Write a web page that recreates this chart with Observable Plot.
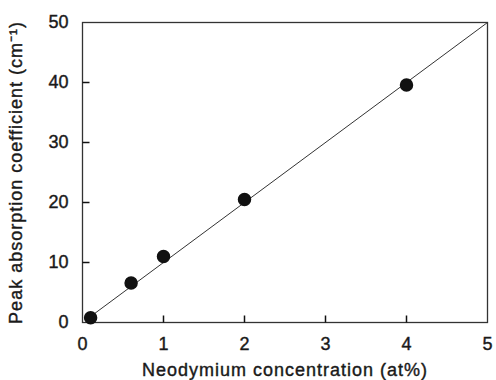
<!DOCTYPE html>
<html>
<head>
<meta charset="utf-8">
<script src="https://cdn.jsdelivr.net/npm/d3@7"></script>
<script src="https://cdn.jsdelivr.net/npm/@observablehq/plot@0.6"></script>
<style>
  html, body { margin: 0; padding: 0; background: #fff; }
  svg text { stroke: #1a1a1a; stroke-width: 0.4px; }
  g[aria-label="x-axis label"] text, g[aria-label="y-axis label"] text { letter-spacing: 1px; }
</style>
</head>
<body>
<div id="chart"></div>
<script>
// Measured data points
const concentration = [0.1, 0.6, 1.0, 2.0, 4.0];   // at%
const absorption    = [0.8, 6.6, 11.0, 20.5, 39.6]; // cm^-1

// Fitted line endpoints
const fitX = [0.15, 5.0];
const fitY = [1.5, 50.0];

const xTicks = [0, 1, 2, 3, 4, 5];
const yTicks = [0, 10, 20, 30, 40, 50];

const points = concentration.map((c, i) => ({x: c, y: absorption[i]}));
const fit = fitX.map((x, i) => ({x, y: fitY[i]}));

// inward tick glyphs (7 px)
const tickUp = {draw(context) { context.moveTo(0, 0); context.lineTo(0, -7); }};
const tickRight = {draw(context) { context.moveTo(0, 0); context.lineTo(7, 0); }};

const chart = Plot.plot({
  width: 496,
  height: 380,
  marginLeft: 82,
  marginRight: 9,
  marginTop: 22,
  marginBottom: 58,
  style: {fontFamily: "'Liberation Sans', Arial, sans-serif", fontSize: "18px", color: "#1a1a1a", background: "#fff"},
  x: {domain: [0, 5]},
  y: {domain: [0, 50]},
  marks: [
    Plot.frame({stroke: "#333", strokeWidth: 1.3}),
    // inward tick marks
    Plot.dot(xTicks.slice(1, -1), {x: d => d, frameAnchor: "bottom", symbol: tickUp, fill: "none", stroke: "#111", strokeWidth: 1.5}),
    Plot.dot(yTicks.slice(1, -1), {y: d => d, frameAnchor: "left", symbol: tickRight, fill: "none", stroke: "#111", strokeWidth: 1.5}),
    // tick labels and titles
    Plot.axisX({ticks: xTicks, tickSize: 0, tickPadding: 15, fontSize: 18, tickFormat: d => String(d),
      label: "Neodymium concentration (at%)", labelAnchor: "center", labelArrow: "none", labelOffset: 53}),
    Plot.axisY({ticks: yTicks, tickSize: 0, tickPadding: 14, fontSize: 18, tickFormat: d => String(d),
      label: "Peak absorption coefficient (cm⁻¹)", labelAnchor: "center", labelArrow: "none", labelOffset: 73}),
    Plot.line(fit, {x: "x", y: "y", stroke: "#333", strokeWidth: 1}),
    Plot.dot(points, {x: "x", y: "y", r: 6, fill: "#111", stroke: "#111"})
  ]
});
document.getElementById("chart").appendChild(chart);
</script>
</body>
</html>
